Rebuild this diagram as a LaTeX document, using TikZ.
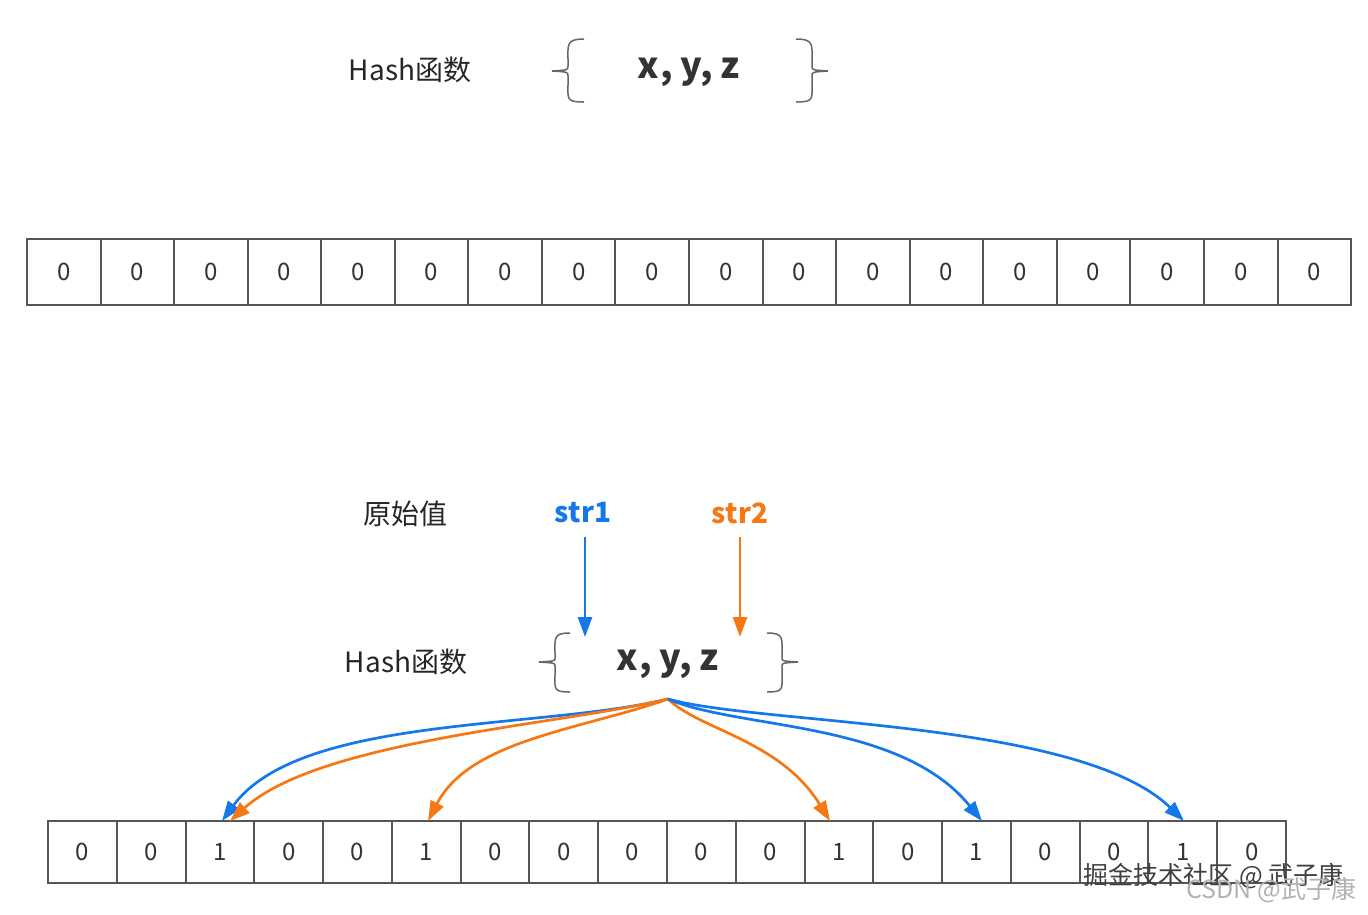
\documentclass[tikz,border=0pt]{standalone}
\usepackage{fontspec}
\setmainfont{Noto Sans CJK SC}
\usetikzlibrary{arrows.meta}
\definecolor{bl}{RGB}{20,120,235}
\definecolor{og}{RGB}{245,120,20}
\definecolor{bd}{RGB}{85,85,85}
\begin{document}
\begin{tikzpicture}[x=1pt,y=-1pt,
 cellA/.style={draw=bd,line width=2pt,minimum width=73.56pt,minimum height=66pt,inner sep=0,font=\fontsize{24}{26}\selectfont,text=black!80},
 cellB/.style={draw=bd,line width=2pt,minimum width=68.78pt,minimum height=62pt,inner sep=0,font=\fontsize{24}{26}\selectfont,text=black!80},
 lbl/.style={font=\fontsize{28}{30}\selectfont,text=black!85},
 xyz/.style={font=\bfseries\fontsize{36}{38}\selectfont,text=black!80},
 brc/.style={draw=black!60,line width=1.5pt},
 arr/.style={line width=2.7pt,-{Triangle[length=20pt,width=14pt]}}]
\useasboundingbox (0,0) rectangle (1368,914);
% top
\node[lbl] (h1) at (410,70) {Hash函数};
\node[xyz] (f1) at (689,72) {x, y, z};
\draw[brc] (584,39) .. controls (566,39) and (568,45) .. (568,60) -- (568,66) .. controls (568,70) .. (552,71) .. controls (568,72) .. (568,76) -- (568,84) .. controls (568,99) and (566,102) .. (584,102);
\draw[brc] (796,39) .. controls (814,39) and (812,45) .. (812,60) -- (812,66) .. controls (812,70) .. (828,71) .. controls (812,72) .. (812,76) -- (812,84) .. controls (812,99) and (814,102) .. (796,102);
\foreach \i in {0,...,17}{
 \node[cellA] (a\i) at ({27+73.56*(\i+0.5)},272) {0};
}
% bottom
\node[lbl] (yz) at (405,514) {原始值};
\node[font=\bfseries\fontsize{28}{30}\selectfont,text=bl] (s1) at (583,513) {str1};
\node[font=\bfseries\fontsize{28}{30}\selectfont,text=og] (s2) at (740,513) {str2};
\node[lbl] (h2) at (406,662) {Hash函数};
\node[xyz] (f2) at (668,664) {x, y, z};
\draw[brc] (570,633) .. controls (553,633) and (555,638) .. (555,654) -- (555,658) .. controls (555,661) .. (539,662) .. controls (555,663) .. (555,666) -- (555,674) .. controls (555,689) and (553,692) .. (570,692);
\draw[brc] (767,633) .. controls (784,633) and (782,638) .. (782,654) -- (782,658) .. controls (782,661) .. (798,662) .. controls (782,663) .. (782,666) -- (782,674) .. controls (782,689) and (784,692) .. (767,692);
\coordinate (s1e) at (585,637);
\coordinate (s2e) at (740,637);
\draw[arr,bl] (585,537) -- (s1e);
\draw[arr,og] (740,537) -- (s2e);
\foreach \v [count=\i from 0] in {0,0,1,0,0,1,0,0,0,0,0,1,0,1,0,0,1,0}{
 \node[cellB] (b\i) at ({48+68.78*(\i+0.5)},852) {\v};
}
\coordinate (o) at (668,699);
\coordinate (t1) at (222,821);
\coordinate (t2) at (230,821);
\coordinate (t3) at (428,821);
\coordinate (t4) at (830,821);
\coordinate (t5) at (982,821);
\coordinate (t6) at (1184,821);
\draw[arr,bl] (o) .. controls (540,730) and (300,715) .. (t1);
\draw[arr,og] (o) .. controls (560,725) and (320,740) .. (t2);
\draw[arr,og] (o) .. controls (580,730) and (470,740) .. (t3);
\draw[arr,og] (o) .. controls (700,730) and (780,740) .. (t4);
\draw[arr,bl] (o) .. controls (740,730) and (900,720) .. (t5);
\draw[arr,bl] (o) .. controls (760,725) and (1080,720) .. (t6);
% watermark
\node[font=\fontsize{25}{27}\selectfont,text=black!75,anchor=west] (w1) at (1080,876) {掘金技术社区 @ 武子康};
\node[font=\fontsize{25}{27}\selectfont,text=black!30,anchor=west] (w2) at (1183,890) {CSDN @武子康};
\end{tikzpicture}
\end{document}
